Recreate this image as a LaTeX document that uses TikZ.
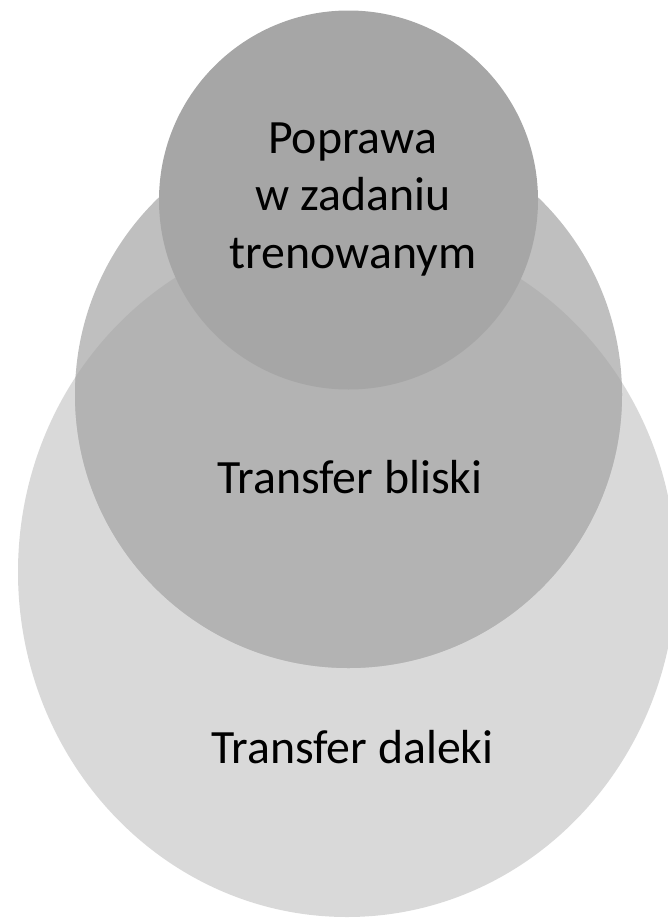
\documentclass[tikz,border=0pt]{standalone}
\usepackage{fontspec}
\setmainfont{Carlito}
\definecolor{largec}{HTML}{D9D9D9}
\definecolor{midc}{HTML}{BFBFBF}
\definecolor{overc}{HTML}{B3B3B3}
\definecolor{smallc}{HTML}{A6A6A6}
\begin{document}
\begin{tikzpicture}[x=1pt,y=1pt,
  lbl/.style={font=\fontsize{47.8}{57}\selectfont, text=black, inner sep=0pt, anchor=base}]
\useasboundingbox (0,0) rectangle (668,-918);
\clip (0,0) rectangle (668,-918);
\fill[largec] (347,-572) ellipse [x radius=329, y radius=345];
\fill[midc] (348.5,-394.5) circle [radius=273.5];
\begin{scope}
  \clip (347,-572) ellipse [x radius=329, y radius=345];
  \fill[overc] (348.5,-394.5) circle [radius=273.5];
\end{scope}
\fill[smallc] (348.5,-200) circle [radius=189.5];
\node[lbl] (p1) at (352.5,-153) {Poprawa};
\node[lbl] (p2) at (353,-210) {w zadaniu};
\node[lbl] (p3) at (353,-268) {trenowanym};
\node[lbl] (near) at (350,-493) {Transfer bliski};
\node[lbl] (far) at (352.5,-763) {Transfer daleki};
\end{tikzpicture}
\end{document}
